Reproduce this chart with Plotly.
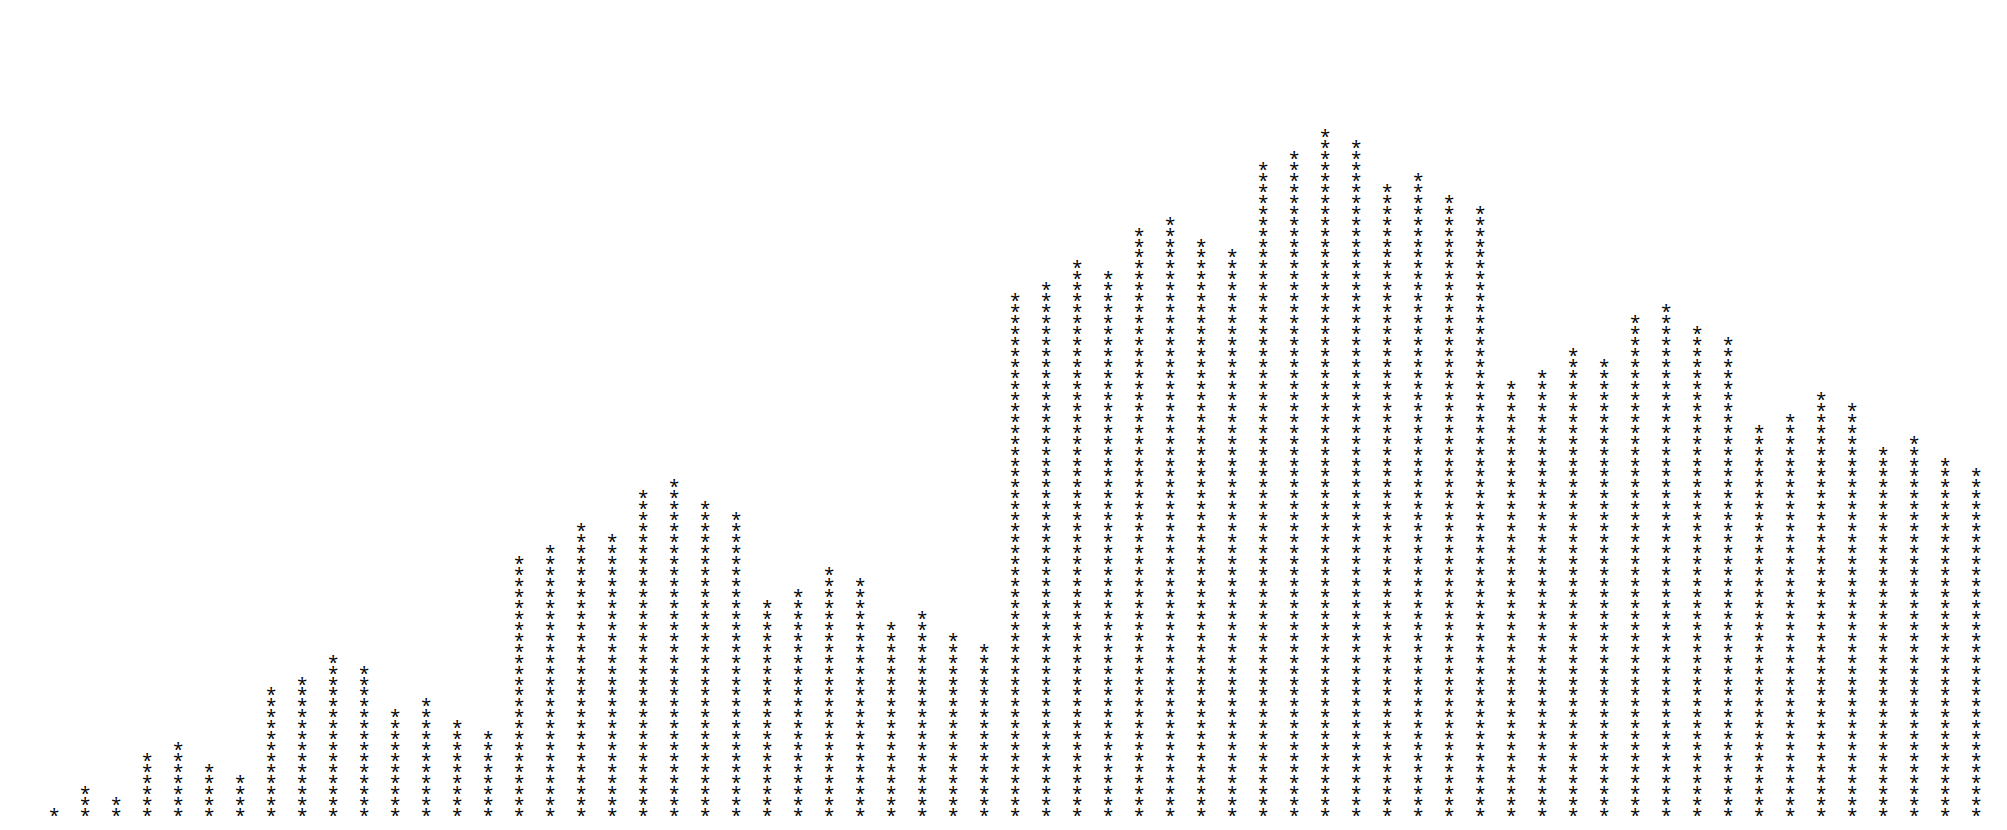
import plotly.graph_objects as go

# number of stars in each column, left to right
columns = list(range(1, 64))
star_counts = [1, 3, 2, 6, 7, 5, 4, 12, 13, 15, 14, 10, 11, 9, 8,
               24, 25, 27, 26, 30, 31, 29, 28, 20, 21, 23, 22, 18, 19, 17, 16,
               48, 49, 51, 50, 54, 55, 53, 52, 60, 61, 63, 62, 58, 59, 57, 56,
               40, 41, 43, 42, 46, 47, 45, 44, 36, 37, 39, 38, 34, 35, 33, 32]

# expand each column into one point per star
xs, ys = [], []
for col, n in zip(columns, star_counts):
    for row in range(1, n + 1):
        xs.append(col)
        ys.append(row)

fig = go.Figure(go.Scatter(
    x=xs,
    y=ys,
    mode="text",
    text=["*"] * len(xs),
    textposition="middle center",
    textfont=dict(size=18, color="black"),
    hoverinfo="skip",
    cliponaxis=False,
))

fig.update_layout(
    width=2007,
    height=830,
    margin=dict(l=0, r=0, t=0, b=0),
    paper_bgcolor="white",
    plot_bgcolor="white",
    showlegend=False,
    xaxis=dict(visible=False, range=[-0.49, 64.25]),
    yaxis=dict(visible=False, range=[-0.88, 74.92]),
)

fig.write_html("out.html")
